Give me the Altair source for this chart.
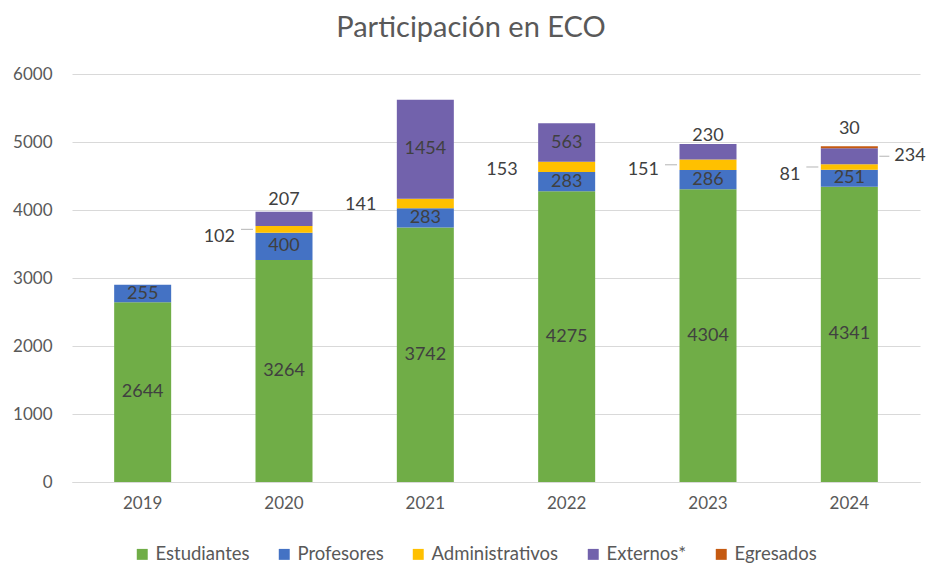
import altair as alt
import pandas as pd

years = ["2019", "2020", "2021", "2022", "2023", "2024"]
categories = ["Estudiantes", "Profesores", "Administrativos", "Externos*", "Egresados"]
colors = ["#70AD47", "#4472C4", "#FFC000", "#7262AC", "#C55A11"]
estudiantes = [2644, 3264, 3742, 4275, 4304, 4341]
profesores = [255, 400, 283, 283, 286, 251]
administrativos = [0, 102, 141, 153, 151, 81]
externos = [0, 207, 1454, 563, 230, 234]
egresados = [0, 0, 0, 0, 0, 30]

series = [estudiantes, profesores, administrativos, externos, egresados]

rows = []
for i, y in enumerate(years):
    cum = 0
    for k, (cat, vals) in enumerate(zip(categories, series)):
        v = vals[i]
        rows.append({"year": y, "cat": cat, "order": k, "value": v,
                     "start": cum, "end": cum + v, "mid": cum + v / 2,
                     "total": sum(s[i] for s in series), "label": str(v)})
        cum += v
df = pd.DataFrame(rows)

def pick(cat, yrs):
    return df[(df["cat"] == cat) & (df["year"].isin(yrs))]

FONT = "Lato"
TXT = "#404040"
GRAY = "#595959"

x_enc = alt.X("year:N", sort=years, title=None,
              scale=alt.Scale(paddingInner=0.6, paddingOuter=0.3),
              axis=alt.Axis(labelAngle=0, labelFontSize=17, labelColor=GRAY, labelFont=FONT,
                            ticks=False, domainColor="#d9d9d9", labelPadding=13))

bars = alt.Chart(df[df["value"] > 0]).mark_bar(size=57).encode(
    x=x_enc,
    y=alt.Y("start:Q", title=None, scale=alt.Scale(domain=[0, 6000]),
            axis=alt.Axis(values=[0, 1000, 2000, 3000, 4000, 5000, 6000], format="d",
                          labelFontSize=17, labelColor=GRAY, labelFont=FONT, ticks=False,
                          domain=False, gridColor="#d9d9d9", labelPadding=20)),
    y2="end:Q",
    color=alt.Color("cat:N", sort=categories,
                    scale=alt.Scale(domain=categories, range=colors),
                    legend=alt.Legend(title=None, orient="none", direction="horizontal",
                                      legendX=61, legendY=471,
                                      symbolType="square", symbolSize=120, symbolStrokeWidth=0,
                                      labelFontSize=18.5, labelColor=GRAY, labelFont=FONT,
                                      columnPadding=25, labelOffset=4)),
    order=alt.Order("order:Q"),
)

def text_layer(data, ycol, **kw):
    return alt.Chart(data).mark_text(fontSize=18, font=FONT, color=TXT, **kw).encode(
        x=alt.X("year:N", sort=years), y=alt.Y(f"{ycol}:Q"), text="label:N")

layers = [bars]

# leader lines
layers.append(alt.Chart(pick("Administrativos", ["2020", "2023", "2024"])).mark_tick(
    size=12, thickness=1.2, xOffset=-37, color="#a6a6a6", orient="horizontal").encode(
    x=alt.X("year:N", sort=years), y=alt.Y("mid:Q")))
layers.append(alt.Chart(pick("Externos*", ["2024"])).mark_tick(
    size=10, thickness=1.2, xOffset=35, color="#a6a6a6", orient="horizontal").encode(
    x=alt.X("year:N", sort=years), y=alt.Y("mid:Q")))

# inside labels
layers.append(text_layer(pd.concat([pick("Estudiantes", years), pick("Profesores", years),
                                    pick("Externos*", ["2021", "2022"])]), "mid"))

# left labels (Administrativos)
left_dy = {"2020": 8, "2021": 1, "2022": 3, "2023": 5, "2024": 8}
for yr, d in left_dy.items():
    layers.append(text_layer(pick("Administrativos", [yr]), "mid", align="right", dx=-49, dy=d))

# top labels
layers.append(text_layer(pick("Externos*", ["2020"]), "total", dy=-12))
layers.append(text_layer(pick("Externos*", ["2023"]), "total", dy=-8))
layers.append(text_layer(pick("Egresados", ["2024"]), "total", dy=-17))

# right label
layers.append(text_layer(pick("Externos*", ["2024"]), "mid", align="left", dx=45))

chart = alt.layer(*layers).properties(
    width=848, height=408,
    title=alt.TitleParams("Participación en ECO", fontSize=29, font=FONT, color=GRAY,
                          fontWeight="normal", anchor="middle", dx=-25, offset=22),
    autosize=alt.AutoSizeParams(type="none"),
    padding={"left": 64, "top": 66, "right": 9, "bottom": 83},
).configure_view(stroke=None)

chart.save("out.html", embed_options={"renderer": "svg", "actions": False})
